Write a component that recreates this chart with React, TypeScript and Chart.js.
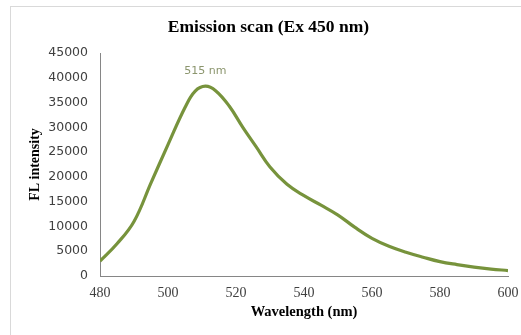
import React, { useEffect, useRef } from "react";
import { Chart, registerables } from "chart.js";

Chart.register(...registerables);

const wavelengths = [480, 485, 490, 495, 500, 505, 508, 511, 514, 518, 522, 526, 530, 535, 540, 545, 550, 555, 560, 565, 570, 575, 580, 585, 590, 595, 600];
const intensities = [3000, 6500, 11000, 18800, 26500, 34000, 37300, 38300, 37400, 34300, 30000, 26000, 22000, 18500, 16200, 14300, 12300, 9800, 7600, 6000, 4800, 3800, 2900, 2300, 1800, 1400, 1100];
const peakLabel = "515 nm";
const peakLabelAt = { x: 511, y: 41400 };
const chartTitle = "Emission scan (Ex 450 nm)";
const xTitle = "Wavelength (nm)";
const yTitle = "FL intensity";

const peakPlugin = {
  id: "peakLabel",
  afterDatasetsDraw(chart: any) {
    const { ctx, scales } = chart;
    const px = scales.x.getPixelForValue(peakLabelAt.x);
    const py = scales.y.getPixelForValue(peakLabelAt.y);
    ctx.save();
    ctx.font = "11px 'DejaVu Sans', sans-serif";
    ctx.fillStyle = "#8b956d";
    ctx.textAlign = "center";
    ctx.textBaseline = "middle";
    ctx.fillText(peakLabel, px, py);
    ctx.restore();
  },
};

export default function App() {
  const ref = useRef<HTMLCanvasElement>(null);
  useEffect(() => {
    if (!ref.current) return;
    const chart = new Chart(ref.current, {
      type: "line",
      data: {
        datasets: [
          {
            data: wavelengths.map((w, i) => ({ x: w, y: intensities[i] })),
            borderColor: "#77933c",
            borderWidth: 3.2,
            pointRadius: 0,
            tension: 0.4,
            fill: false,
          },
        ],
      },
      plugins: [peakPlugin],
      options: {
        animation: false,
        responsive: false,
        layout: { padding: { left: 16, right: 0, top: 0, bottom: 0 } },
        plugins: {
          legend: { display: false },
          tooltip: { enabled: false },
          title: {
            display: true,
            text: chartTitle,
            color: "#000000",
            font: { family: "'Liberation Serif', serif", size: 17.5, weight: "bold" },
            padding: { top: 16.5, bottom: 15.5 },
          },
        },
        scales: {
          x: {
            type: "linear",
            min: 480,
            max: 600,
            ticks: {
              stepSize: 20,
              color: "#404040",
              font: { family: "'Liberation Serif', serif", size: 14 },
              padding: 9,
              maxRotation: 0,
              callback: (v: any) => String(v),
            },
            grid: { display: false, drawTicks: false },
            border: { display: true, color: "#868686", width: 1 },
            title: {
              display: true,
              text: xTitle,
              color: "#000000",
              font: { family: "'Liberation Serif', serif", size: 14.5, weight: "bold" },
              padding: { top: 0, bottom: 14 },
            },
            afterFit(scale: any) {
              scale.height = 59;
              scale.paddingRight = 13;
              scale.paddingLeft = 0;
            },
          },
          y: {
            min: 0,
            max: 45000,
            ticks: {
              stepSize: 5000,
              color: "#404040",
              font: { family: "'DejaVu Sans', sans-serif", size: 12.5 },
              padding: 12,
              callback: (v: any) => String(v),
            },
            grid: { display: false, drawTicks: false },
            border: { display: true, color: "#868686", width: 1 },
            title: {
              display: true,
              text: yTitle,
              color: "#000000",
              font: { family: "'Liberation Serif', serif", size: 14, weight: "bold" },
              padding: { top: 10.5, bottom: 0 },
            },
            afterFit(scale: any) {
              scale.width = 84;
              scale.paddingTop = 0;
              scale.paddingBottom = 0;
            },
          },
        },
      },
    } as any);
    return () => chart.destroy();
  }, []);

  return (
    <div style={{ position: "absolute", left: 0, top: 0, width: 521, height: 335, overflow: "hidden", background: "#ffffff" }}>
      <div
        style={{
          position: "absolute",
          left: 10,
          top: 6,
          width: 530,
          height: 340,
          border: "1px solid #d9d9d9",
          boxSizing: "border-box",
        }}
      />
      <canvas ref={ref} width={521} height={335} style={{ position: "absolute", left: 0, top: 0 }} />
    </div>
  );
}
